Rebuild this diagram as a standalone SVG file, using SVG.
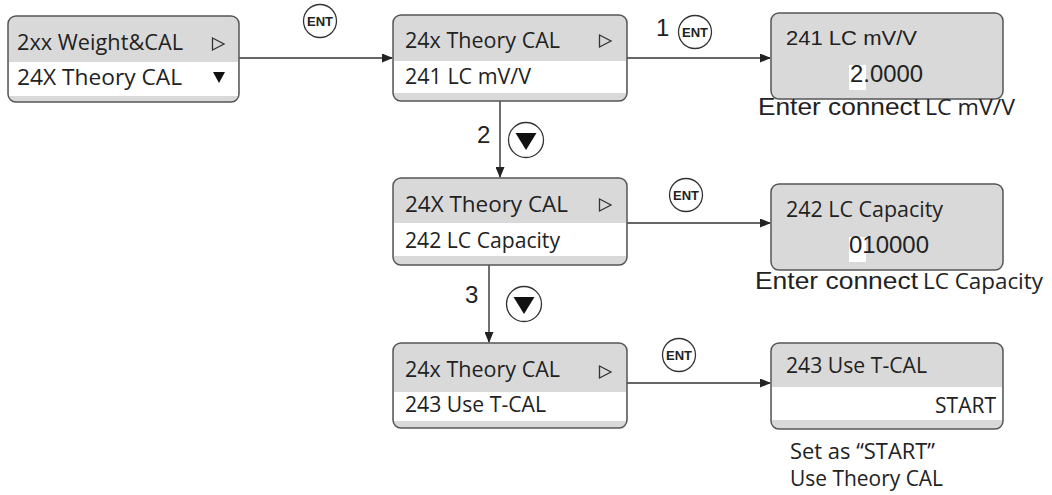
<svg xmlns="http://www.w3.org/2000/svg" width="1052" height="495" viewBox="0 0 1052 495">
<style>
.box{fill:#d9d9d9;stroke:#555;stroke-width:1.5}
.band{fill:#fff}
.t{font-family:"Open Sans","Noto Sans",sans-serif;font-size:21px;fill:#222}
.a{font-family:"Liberation Sans",Arial,sans-serif;fill:#222}
.ln{stroke:#333;stroke-width:1.4;fill:none}
.btn{fill:#fff;stroke:#333;stroke-width:1.3}
.ent{font-family:"Liberation Sans",Arial,sans-serif;font-weight:bold;font-size:13px;fill:#222}
.num{font-family:"Liberation Sans",Arial,sans-serif;font-size:24px;fill:#222}
.tri{fill:#111}
.otri{fill:none;stroke:#333;stroke-width:1.3}
</style>
<defs>
<marker id="ah" markerUnits="userSpaceOnUse" markerWidth="11" markerHeight="9" refX="10" refY="4.5" orient="auto">
<path d="M0,0 L11,4.5 L0,9 z" fill="#222"/>
</marker>
</defs>

<g id="connectors">
<line class="ln" x1="239" y1="58" x2="392" y2="58" marker-end="url(#ah)"/>
<line class="ln" x1="627" y1="58" x2="770" y2="58" marker-end="url(#ah)"/>
<line class="ln" x1="500" y1="101" x2="500" y2="177" marker-end="url(#ah)"/>
<line class="ln" x1="627" y1="223" x2="770" y2="223" marker-end="url(#ah)"/>
<line class="ln" x1="489" y1="264" x2="489" y2="342" marker-end="url(#ah)"/>
<line class="ln" x1="627" y1="383" x2="770" y2="383" marker-end="url(#ah)"/>
<g id="btn-ent-1"><circle class="btn" cx="320" cy="21" r="16.5"/><text class="ent" x="320" y="25.5" text-anchor="middle">ENT</text></g>
<text class="num" x="656" y="36">1</text>
<g id="btn-ent-2"><circle class="btn" cx="695" cy="32" r="16.5"/><text class="ent" x="695" y="36.5" text-anchor="middle">ENT</text></g>
<text class="num" x="477" y="143">2</text>
<g id="btn-down-1"><circle class="btn" cx="526" cy="140" r="17.5"/><path class="tri" d="M515.5,133 L536.5,133 L526,150 z"/></g>
<g id="btn-ent-3"><circle class="btn" cx="686" cy="195" r="16.5"/><text class="ent" x="686" y="199.5" text-anchor="middle">ENT</text></g>
<text class="num" x="465" y="303">3</text>
<g id="btn-down-2"><circle class="btn" cx="524" cy="304" r="17.5"/><path class="tri" d="M513.5,297 L534.5,297 L524,314 z"/></g>
<g id="btn-ent-4"><circle class="btn" cx="679" cy="355" r="16.5"/><text class="ent" x="679" y="359.5" text-anchor="middle">ENT</text></g>
</g>

<g id="node-2xx">
<rect class="box" x="8" y="16" width="231" height="86" rx="8"/>
<rect class="band" x="9" y="62" width="229" height="34"/>
<text class="t" x="17" y="50" textLength="166" lengthAdjust="spacingAndGlyphs">2xx Weight&amp;CAL</text>
<text class="t" x="17" y="85" textLength="165" lengthAdjust="spacingAndGlyphs">24X  Theory CAL</text>
<path class="otri" d="M212.5,38 L224,44 L212.5,50 z"/>
<path class="tri" d="M213,72 L225,72 L219,83 z"/>
</g>

<g id="node-241menu">
<rect class="box" x="393" y="15" width="234" height="86" rx="8"/>
<rect class="band" x="394" y="61" width="232" height="32"/>
<text class="t" x="405" y="48" textLength="155" lengthAdjust="spacingAndGlyphs">24x Theory CAL</text>
<text class="t" x="405" y="84" textLength="126" lengthAdjust="spacingAndGlyphs">241 LC mV/V</text>
<path class="otri" d="M599.5,35 L611,41 L599.5,47 z"/>
</g>

<g id="node-241">
<rect class="box" x="771" y="13" width="232" height="86" rx="8"/>
<rect class="band" x="849" y="65" width="17" height="25"/>
<text class="a" x="786" y="45" font-size="21" textLength="131" lengthAdjust="spacingAndGlyphs">241  LC mV/V</text>
<text class="a" x="850" y="82" font-size="24" textLength="73" lengthAdjust="spacingAndGlyphs">2.0000</text>
<text class="a" x="758" y="115" font-size="24" textLength="162" lengthAdjust="spacingAndGlyphs">Enter connect</text>
<text class="t" x="925" y="115" textLength="90" lengthAdjust="spacingAndGlyphs">LC mV/V</text>
</g>

<g id="node-242menu">
<rect class="box" x="393" y="178" width="234" height="87" rx="8"/>
<rect class="band" x="394" y="223" width="232" height="33"/>
<text class="t" x="405" y="212" textLength="163" lengthAdjust="spacingAndGlyphs">24X  Theory CAL</text>
<text class="t" x="405" y="248" textLength="155" lengthAdjust="spacingAndGlyphs">242 LC Capacity</text>
<path class="otri" d="M599.5,199 L611,205 L599.5,211 z"/>
</g>

<g id="node-242">
<rect class="box" x="771" y="184" width="232" height="86" rx="8"/>
<rect class="band" x="849" y="237" width="17" height="25"/>
<text class="t" x="786" y="217" textLength="157" lengthAdjust="spacingAndGlyphs">242 LC Capacity</text>
<text class="a" x="849" y="253" font-size="24" textLength="80" lengthAdjust="spacingAndGlyphs">010000</text>
<text class="a" x="755" y="289" font-size="24" textLength="163" lengthAdjust="spacingAndGlyphs">Enter connect</text>
<text class="t" x="923" y="289" textLength="120" lengthAdjust="spacingAndGlyphs">LC Capacity</text>
</g>

<g id="node-243menu">
<rect class="box" x="393" y="343" width="234" height="85" rx="8"/>
<rect class="band" x="394" y="392" width="232" height="29"/>
<text class="t" x="405" y="377" textLength="155" lengthAdjust="spacingAndGlyphs">24x Theory CAL</text>
<text class="t" x="405" y="412" textLength="141" lengthAdjust="spacingAndGlyphs">243 Use T-CAL</text>
<path class="otri" d="M599.5,366 L611,372 L599.5,378 z"/>
</g>

<g id="node-243">
<rect class="box" x="771" y="343" width="232" height="86" rx="8"/>
<rect class="band" x="772" y="387" width="230" height="33"/>
<text class="t" x="786" y="373" textLength="141" lengthAdjust="spacingAndGlyphs">243 Use T-CAL</text>
<text class="t" x="996" y="413" text-anchor="end">START</text>
<text class="t" x="790" y="459" textLength="145" lengthAdjust="spacingAndGlyphs">Set as “START”</text>
<text class="t" x="790" y="486" textLength="153" lengthAdjust="spacingAndGlyphs">Use Theory CAL</text>
</g>
</svg>
